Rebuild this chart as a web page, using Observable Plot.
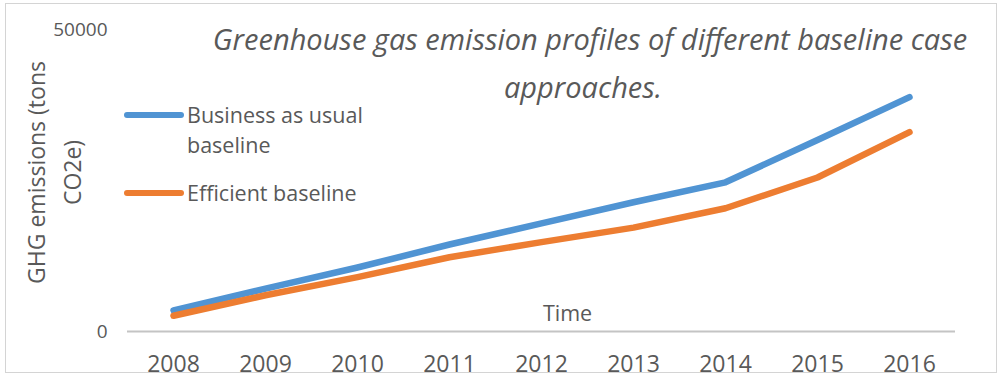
<!DOCTYPE html>
<html>
<head>
<meta charset="utf-8">
<script src="https://cdn.jsdelivr.net/npm/d3@7"></script>
<script src="https://cdn.jsdelivr.net/npm/@observablehq/plot@0.6"></script>
<style>
  html, body { margin: 0; padding: 0; background: #fff; }
  #chart { position: relative; width: 1004px; height: 377px; font-family: "Open Sans", sans-serif; color: #595959; }
  #chart svg { display: block; }
  .border { position: absolute; left: 5px; top: 3px; width: 992px; height: 370px; border: 1.5px solid #d4d4d4; box-sizing: border-box; pointer-events: none; }
  .title { position: absolute; font-style: italic; font-size: 29px; white-space: nowrap; transform: translate(-50%, -50%); }
  .legend { position: absolute; left: 124px; font-size: 21.5px; }
  .legend .item { position: absolute; left: 0; display: flex; align-items: flex-start; white-space: nowrap; }
  .legend .swatch { width: 60px; height: 6px; border-radius: 3px; margin-top: 12px; margin-right: 3px; }
  .legend .label { line-height: 30px; }
</style>
</head>
<body>
<div id="chart"></div>
<script>
// Years on the horizontal axis
const years = [2008, 2009, 2010, 2011, 2012, 2013, 2014, 2015, 2016];
// GHG emissions, tons CO2e
const businessAsUsual = [3500, 7100, 10600, 14400, 17900, 21400, 24700, 31700, 38800];
const efficient = [2600, 6000, 9000, 12300, 14800, 17200, 20400, 25500, 33000];
const seriesNames = ["Business as usual baseline", "Efficient baseline"];
const seriesColors = ["#5094d3", "#ed7d31"];
const yTicks = [0, 50000];
const titleLines = ["Greenhouse gas emission profiles of different baseline case", "approaches."];
const yLabelLines = ["GHG emissions (tons", "CO2e)"];
const xLabel = "Time";

const rows = [];
years.forEach((year, i) => {
  rows.push({year, value: businessAsUsual[i], series: seriesNames[0]});
  rows.push({year, value: efficient[i], series: seriesNames[1]});
});

const plot = Plot.plot({
  width: 1004,
  height: 377,
  marginTop: 29,
  marginBottom: 46,
  marginLeft: 127,
  marginRight: 49,
  style: {fontFamily: "Open Sans, sans-serif", color: "#595959", background: "transparent", overflow: "visible"},
  x: {type: "point", domain: years, padding: 0.5},
  y: {domain: [0, 50000]},
  color: {domain: seriesNames, range: seriesColors},
  marks: [
    Plot.ruleY([0], {stroke: "#c4c4c4", strokeWidth: 2}),
    Plot.axisX({tickSize: 0, tickPadding: 24, fontSize: 23, label: null, tickFormat: d => String(d)}),
    Plot.axisY(yTicks, {tickSize: 0, tickPadding: 20, fontSize: 19, label: null, tickFormat: d => String(d)}),
    Plot.line(rows, {x: "year", y: "value", stroke: "series", z: "series", strokeWidth: 6.5, strokeLinecap: "round", strokeLinejoin: "round"}),
    Plot.text([xLabel], {frameAnchor: "bottom", lineAnchor: "middle", dx: 26, dy: -17, fontSize: 21.5, fill: "#595959"}),
    Plot.text([yLabelLines[0]], {frameAnchor: "left", textAnchor: "middle", lineAnchor: "middle", rotate: -90, dx: -90, dy: -8, fontSize: 23, fill: "#595959"}),
    Plot.text([yLabelLines[1]], {frameAnchor: "left", textAnchor: "middle", lineAnchor: "middle", rotate: -90, dx: -54, dy: -8, fontSize: 23, fill: "#595959"})
  ]
});

const chart = document.getElementById("chart");
chart.appendChild(plot);

// Chart border
const border = document.createElement("div");
border.className = "border";
chart.appendChild(border);

// Two-line italic title
const titlePos = [[590, 38], [583, 86]];
titleLines.forEach((t, i) => {
  const el = document.createElement("div");
  el.className = "title";
  el.textContent = t;
  el.style.left = titlePos[i][0] + "px";
  el.style.top = titlePos[i][1] + "px";
  chart.appendChild(el);
});

// Legend
const legend = document.createElement("div");
legend.className = "legend";
legend.style.top = "0px";
const legendTops = [100, 178];
const legendLabels = [["Business as usual", "baseline"], ["Efficient baseline"]];
seriesNames.forEach((name, i) => {
  const item = document.createElement("div");
  item.className = "item";
  item.style.top = legendTops[i] + "px";
  const sw = document.createElement("div");
  sw.className = "swatch";
  sw.style.background = seriesColors[i];
  const lab = document.createElement("div");
  lab.className = "label";
  lab.innerHTML = legendLabels[i].join("<br>");
  item.appendChild(sw);
  item.appendChild(lab);
  legend.appendChild(item);
});
chart.appendChild(legend);
</script>
</body>
</html>
